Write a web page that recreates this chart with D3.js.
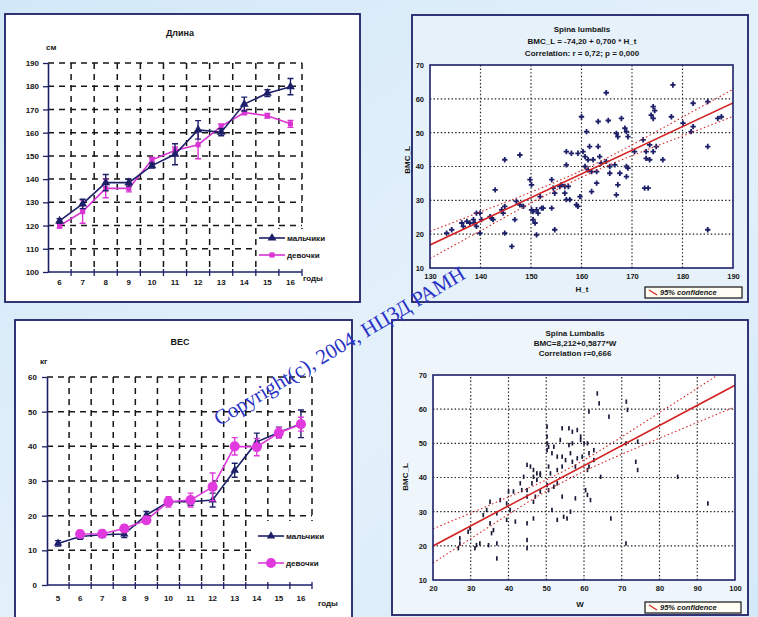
<!DOCTYPE html>
<html>
<head>
<meta charset="utf-8">
<script src="https://cdn.jsdelivr.net/npm/d3@7"></script>
<style>
  body { margin: 0; }
  svg { display: block; }
  text { font-family: "Liberation Sans", Arial, sans-serif; }
  text.watermark { font-family: "Liberation Serif", "Times New Roman", serif; }
</style>
</head>
<body>
<svg id="chart" width="758" height="617"></svg>
<script>
// ---------- Длина (height by age) ----------
const heightAges = ["6", "7", "8", "9", "10", "11", "12", "13", "14", "15", "16"];
const heightTicks = [100, 110, 120, 130, 140, 150, 160, 170, 180, 190];
const heightBoys = [122, 129.3, 138.5, 138.5, 145.8, 150.7, 161.2, 160.2, 172.3, 177, 179.8];
const heightBoysErr = [1, 2, 3.5, 1.5, 1, 4.5, 4, 1.5, 3, 1.5, 3.5];
const heightGirls = [119.9, 126, 136, 136, 148.3, 152.3, 154.8, 162.7, 168.7, 167.3, 163.8];
const heightGirlsErr = [1, 5, 4, 1.5, 1, 1.5, 6, 1, 1, 1, 1.5];

// ---------- ВЕС (weight by age) ----------
const weightAges = ["5", "6", "7", "8", "9", "10", "11", "12", "13", "14", "15", "16"];
const weightTicks = [0, 10, 20, 30, 40, 50, 60];
const weightBoys = [12, 14, 14.5, 14.7, 20.2, 24, 24, 24.5, 33.1, 41.3, 44, 46.5];
const weightBoysErr = [0.8, 0.8, 0.8, 1, 1, 1, 1, 2, 2, 2.5, 1.5, 4];
const weightGirls = [null, 14.7, 14.8, 16.3, 18.7, 24, 24.5, 28.3, 40, 39.8, 43.9, 46.4];
const weightGirlsErr = [null, 1, 1, 1, 1, 1.5, 2, 4, 2.5, 2.5, 1.5, 2];

// ---------- BMC vs height ----------
const bmcHeightXTicks = [130, 140, 150, 160, 170, 180, 190];
const bmcHeightYTicks = [10, 20, 30, 40, 50, 60, 70];
const bmcHeightFit = [-74.2, 0.70];           // intercept, slope
const bmcHeightCiX = [130, 140, 150, 160, 170, 180, 190];
const bmcHeightCiUpper = [20.8, 26.6, 32.4, 38.8, 46.4, 54.6, 62.8];
const bmcHeightCiLower = [12.8, 21.0, 29.2, 36.8, 43.2, 49.0, 54.8];
const bmcHeightPoints = [
  [178.1,64.1],[164.9,61.8],[182.1,58.7],[185.0,59.2],[174.2,57.7],[174.5,56.5],[160.0,54.7],[163.3,53.3],
  [165.3,53.6],[167.9,54.2],[173.8,55.2],[174.2,54.2],[177.8,54.7],[187.0,54.2],[187.7,54.7],[180.1,52.8],
  [161.0,50.3],[166.9,49.8],[167.2,48.8],[168.6,51.3],[168.9,50.3],[169.2,48.8],[182.1,51.8],[181.7,50.3],
  [172.2,47.9],[185.0,45.9],[161.6,45.9],[163.3,45.9],[157.0,44.4],[158.0,43.9],[159.3,43.9],[160.3,44.4],
  [170.5,44.4],[172.8,44.4],[174.2,44.4],[172.8,42.4],[173.5,42.0],[176.1,42.0],[144.8,42.0],[147.8,43.4],
  [157.0,40.5],[160.7,42.9],[161.3,42.0],[162.3,42.0],[163.6,42.9],[163.9,41.0],[164.9,41.5],[165.6,40.0],
  [166.6,40.5],[160.7,40.0],[161.3,39.0],[162.0,38.5],[163.0,38.5],[165.6,38.0],[167.6,38.0],[168.9,40.0],
  [169.2,39.5],[168.9,37.0],[163.0,35.1],[167.2,34.6],[166.9,31.6],[162.0,32.6],[154.1,36.1],[154.4,33.6],
  [156.0,34.6],[156.7,34.1],[157.4,34.1],[155.7,34.1],[149.8,36.1],[150.1,34.6],[142.9,33.1],[151.8,31.1],
  [152.1,27.7],[154.1,27.7],[154.7,32.1],[157.0,30.2],[157.7,30.2],[159.0,28.7],[159.3,28.2],[156.7,32.1],
  [172.5,33.6],[173.2,33.6],[154.7,21.3],[147.1,29.7],[147.8,28.7],[148.5,28.2],[144.2,27.2],[144.5,26.2],
  [150.1,27.2],[150.4,26.7],[151.1,27.2],[151.4,26.2],[152.4,27.7],[150.4,24.3],[150.8,23.3],[144.8,20.3],
  [146.8,24.3],[151.1,19.8],[139.9,26.2],[140.2,24.3],[141.9,25.2],[142.2,24.7],[142.5,24.3],[138.6,24.3],
  [138.9,23.3],[139.2,22.3],[139.9,20.3],[136.3,23.3],[136.6,22.3],[137.3,23.8],[137.9,23.3],[133.3,20.3],
  [134.3,21.3],[146.2,16.4],[185.0,21.3],[173.5,46.4],[174.8,45.9],[159.7,31.1],[139.2,26.2],[144.8,28.2]
];

// ---------- BMC vs weight ----------
const bmcWeightXTicks = [20, 30, 40, 50, 60, 70, 80, 90, 100];
const bmcWeightYTicks = [10, 20, 30, 40, 50, 60, 70];
const bmcWeightFit = [8.212, 0.5877];          // intercept, slope
const bmcWeightCiX = [20, 30, 40, 50, 60, 70, 80, 90, 100];
const bmcWeightCiUpper = [25.0, 29.6, 34.3, 39.3, 45.1, 51.9, 59.0, 66.1, 73.3];
const bmcWeightCiLower = [15.0, 22.1, 29.2, 36.0, 41.8, 46.8, 51.5, 56.1, 60.7];
const bmcWeightPoints = [
  [63.5,64.6],[61.3,59.3],[64.0,61.7],[66.6,57.8],[71.2,62.2],[71.5,59.8],[50.2,54.9],[50.2,52.0],
  [54.2,54.4],[56.0,54.4],[56.9,53.4],[58.2,53.9],[59.1,52.0],[53.7,51.0],[56.0,49.5],[56.9,50.0],
  [60.0,50.0],[60.9,50.0],[50.2,50.0],[50.6,49.0],[52.0,49.0],[50.2,48.0],[51.5,47.1],[52.9,46.1],
  [54.2,46.1],[56.4,47.1],[55.1,45.1],[56.9,44.6],[58.2,45.6],[59.5,46.1],[62.6,45.1],[61.3,43.2],
  [60.9,42.2],[57.7,43.2],[50.6,43.2],[51.1,41.2],[52.9,42.2],[54.2,43.2],[44.9,43.7],[45.8,43.2],
  [46.6,42.2],[47.5,41.2],[48.4,41.2],[44.0,40.2],[43.1,38.3],[43.5,36.3],[44.9,36.3],[46.2,38.3],
  [44.9,34.4],[47.1,34.4],[46.6,32.9],[48.4,35.9],[50.2,37.8],[50.6,36.3],[52.0,37.3],[52.9,38.3],
  [54.2,34.4],[57.7,33.9],[54.6,28.5],[56.4,30.0],[52.9,27.6],[55.5,28.0],[51.5,30.5],[46.6,28.0],
  [44.9,26.6],[41.3,35.9],[40.0,35.9],[39.5,32.4],[37.8,33.4],[40.4,30.5],[41.8,27.1],[39.5,27.6],
  [36.9,29.5],[35.1,32.9],[34.2,30.5],[33.3,29.0],[35.1,26.6],[36.0,24.6],[35.5,23.7],[36.9,20.7],
  [32.4,20.7],[31.5,20.2],[31.1,19.3],[34.7,20.2],[36.9,16.3],[29.8,25.1],[29.3,24.1],[27.1,22.2],
  [27.1,20.7],[26.7,19.3],[44.9,19.3],[44.9,21.7],[67.1,28.0],[71.1,20.7],[73.7,44.6],[74.2,42.2],
  [84.8,40.2],[92.8,32.4],[64.4,40.2],[60.4,36.3],[60.9,34.9],[61.7,33.4],[59.1,51.0],[62.6,48.0],
  [61.3,47.1],[71.1,50.0],[74.2,50.5],[46.6,40.2],[47.5,39.3],[48.4,40.7]
];

const NAVY = "#1d2068";
const MAG = "#d834d2";
const RED = "#d42222";
const svg = d3.select("#chart");
const defs = svg.append("defs");

// page background
const bg = defs.append("linearGradient").attr("id", "pageBg")
  .attr("x1", 0).attr("y1", 0).attr("x2", 1).attr("y2", 1);
bg.append("stop").attr("offset", 0).attr("stop-color", "#d2e8f8");
bg.append("stop").attr("offset", 0.55).attr("stop-color", "#e4f1fb");
bg.append("stop").attr("offset", 1).attr("stop-color", "#d4e9f8");
svg.append("rect").attr("width", 758).attr("height", 617).attr("fill", "url(#pageBg)");

function frame(x0, y0, x1, y1, fill) {
  svg.append("rect").attr("x", x0).attr("y", y0).attr("width", x1 - x0).attr("height", y1 - y0)
    .attr("fill", fill).attr("stroke", NAVY).attr("stroke-width", 1.8);
}

frame(5, 14, 360, 302, "#ffffff");
frame(412, 15, 748, 302, "#e6f1fa");
frame(15, 320, 352, 622, "#ffffff");
frame(392, 320, 748, 615, "#eef6fc");

function styleAxis(sel, size) {
  sel.select(".domain").attr("stroke", NAVY).attr("stroke-width", 1.6);
  sel.selectAll(".tick line").attr("stroke", NAVY).attr("stroke-width", 1.3);
  sel.selectAll(".tick text").attr("fill", "#151515").attr("font-size", size)
    .attr("font-weight", "bold");
}

// ---------- category line panel with error bars ----------
function linePanel(p) {
  const g = svg.append("g");
  const x = d3.scaleBand().domain(p.cats).range(p.xr).padding(0);
  const y = d3.scaleLinear().domain([p.ticks[0], p.ticks[p.ticks.length - 1]]).range(p.yr);
  const bw = x.bandwidth();
  const cx = c => x(c) + bw / 2;

  g.selectAll(null).data(p.ticks.slice(1)).join("line")
    .attr("x1", p.xr[0]).attr("x2", p.xr[1])
    .attr("y1", d => y(d)).attr("y2", d => y(d))
    .attr("stroke", "#161616").attr("stroke-width", 1.5).attr("stroke-dasharray", "6,5");
  g.selectAll(null).data(p.cats).join("line")
    .attr("x1", d => x(d) + bw).attr("x2", d => x(d) + bw)
    .attr("y1", p.yr[1]).attr("y2", p.yr[0])
    .attr("stroke", "#161616").attr("stroke-width", 1.5).attr("stroke-dasharray", "6,5");

  // legend area
  const L = p.legend;
  g.append("rect").attr("x", L.box[0]).attr("y", L.box[1])
    .attr("width", L.box[2]).attr("height", L.box[3]).attr("fill", "#ffffff");

  const ya = g.append("g").attr("transform", `translate(${p.xr[0]},0)`)
    .call(d3.axisLeft(y).tickValues(p.ticks).tickSize(5).tickSizeOuter(0).tickPadding(p.yPad));
  styleAxis(ya, 8);
  const xa = g.append("g").attr("transform", `translate(0,${p.yr[0]})`)
    .call(d3.axisBottom(x).tickSize(0).tickSizeOuter(0).tickPadding(p.xPad));
  styleAxis(xa, 8);
  xa.select(".domain").attr("d", `M${p.xr[0]},0H${p.xr[1]}`);
  // boundary tick marks on the category axis
  g.selectAll(null).data(p.cats).join("line")
    .attr("x1", d => x(d) + bw).attr("x2", d => x(d) + bw)
    .attr("y1", p.yr[0] - 3).attr("y2", p.yr[0] + 4)
    .attr("stroke", NAVY).attr("stroke-width", 1.3);

  const series = [
    { v: p.girls, e: p.girlsErr, color: p.girlColor, marker: p.girlMarker, size: p.girlSize },
    { v: p.boys, e: p.boysErr, color: NAVY, marker: d3.symbolTriangle, size: p.boySize }
  ];
  if (p.boysFirst) series.reverse();

  series.forEach(s => {
    const pts = p.cats.map((c, i) => ({ c, v: s.v[i], e: s.e[i] })).filter(d => d.v != null);
    // error bars
    g.selectAll(null).data(pts).join("path")
      .attr("d", d => {
        const X = cx(d.c), t = y(d.v + d.e), b = y(d.v - d.e);
        return `M${X},${t}V${b}M${X - 3},${t}H${X + 3}M${X - 3},${b}H${X + 3}`;
      })
      .attr("stroke", s.color).attr("stroke-width", 1.4).attr("fill", "none");
    g.append("path").datum(pts)
      .attr("d", d3.line().x(d => cx(d.c)).y(d => y(d.v)))
      .attr("fill", "none").attr("stroke", s.color).attr("stroke-width", 1.6);
    g.selectAll(null).data(pts).join("path")
      .attr("transform", d => `translate(${cx(d.c)},${y(d.v)})`)
      .attr("d", d3.symbol().type(s.marker).size(s.size))
      .attr("fill", s.color);
  });

  // legend entries
  [[NAVY, d3.symbolTriangle, p.boySize, "мальчики", L.y1], [p.girlColor, p.girlMarker, p.girlSize, "девочки", L.y2]]
    .forEach(([col, sym, sz, label, ly]) => {
      g.append("line").attr("x1", L.x).attr("x2", L.x + 26).attr("y1", ly).attr("y2", ly)
        .attr("stroke", col).attr("stroke-width", 1.6);
      g.append("path").attr("transform", `translate(${L.x + 13},${ly})`)
        .attr("d", d3.symbol().type(sym).size(sz)).attr("fill", col);
      g.append("text").attr("x", L.x + 28).attr("y", ly + 3).attr("font-size", 8)
        .attr("font-weight", "bold").attr("fill", "#151515").text(label);
    });

  g.append("text").attr("x", p.title[1]).attr("y", p.title[2]).attr("text-anchor", "middle")
    .attr("font-size", 9).attr("font-weight", "bold").attr("fill", "#151515").text(p.title[0]);
  g.append("text").attr("x", p.unit[1]).attr("y", p.unit[2])
    .attr("font-size", 8).attr("font-weight", "bold").attr("fill", "#151515").text(p.unit[0]);
  g.append("text").attr("x", p.years[0]).attr("y", p.years[1])
    .attr("font-size", 8).attr("font-weight", "bold").attr("fill", "#151515").text("годы");
}

linePanel({
  cats: heightAges, ticks: heightTicks, xr: [48, 302], yr: [272, 63],
  boys: heightBoys, boysErr: heightBoysErr, girls: heightGirls, girlsErr: heightGirlsErr,
  girlColor: MAG, girlMarker: d3.symbolSquare, girlSize: 26, boySize: 34, boysFirst: false,
  legend: { box: [257, 229, 98, 40], x: 259, y1: 238, y2: 255 },
  yPad: 4, xPad: 7,
  title: ["Длина", 180, 36], unit: ["см", 46, 50], years: [303, 281]
});

linePanel({
  cats: weightAges, ticks: weightTicks, xr: [47, 312], yr: [585, 377],
  boys: weightBoys, boysErr: weightBoysErr, girls: weightGirls, girlsErr: weightGirlsErr,
  girlColor: "#e03ade", girlMarker: d3.symbolCircle, girlSize: 80, boySize: 30, boysFirst: true,
  legend: { box: [251, 521, 98, 62], x: 258, y1: 536, y2: 563 },
  yPad: 5, xPad: 10,
  title: ["ВЕС", 180, 345], unit: ["кг", 40, 364], years: [318, 606]
});

// ---------- regression scatter panel ----------
function scatterPanel(p) {
  const g = svg.append("g");
  const x = d3.scaleLinear().domain([p.xTicks[0], p.xTicks[p.xTicks.length - 1]]).range(p.xr);
  const y = d3.scaleLinear().domain([p.yTicks[0], p.yTicks[p.yTicks.length - 1]]).range(p.yr);
  const clipId = p.id + "Clip";
  defs.append("clipPath").attr("id", clipId).append("rect")
    .attr("x", p.xr[0]).attr("y", p.yr[1]).attr("width", p.xr[1] - p.xr[0]).attr("height", p.yr[0] - p.yr[1]);

  g.append("rect").attr("x", p.xr[0]).attr("y", p.yr[1])
    .attr("width", p.xr[1] - p.xr[0]).attr("height", p.yr[0] - p.yr[1]).attr("fill", "#ffffff");

  g.selectAll(null).data(p.yTicks.slice(1, -1)).join("line")
    .attr("x1", p.xr[0]).attr("x2", p.xr[1]).attr("y1", d => y(d)).attr("y2", d => y(d))
    .attr("stroke", "#202020").attr("stroke-width", 1.2).attr("stroke-dasharray", "1.4,2.2");
  g.selectAll(null).data(p.xTicks.slice(1, -1)).join("line")
    .attr("x1", d => x(d)).attr("x2", d => x(d)).attr("y1", p.yr[0]).attr("y2", p.yr[1])
    .attr("stroke", "#202020").attr("stroke-width", 1.2).attr("stroke-dasharray", "1.4,2.2");

  const pg = g.append("g").attr("clip-path", `url(#${clipId})`);
  // points
  if (p.marker === "cross") {
    pg.selectAll(null).data(p.points).join("path")
      .attr("transform", d => `translate(${x(d[0])},${y(d[1])})`)
      .attr("d", d3.symbol().type(d3.symbolCross).size(16))
      .attr("fill", NAVY);
  } else {
    pg.selectAll(null).data(p.points).join("rect")
      .attr("x", d => x(d[0]) - 0.8).attr("y", d => y(d[1]) - 2.2)
      .attr("width", 1.7).attr("height", 4.4).attr("fill", "#1a1a3a");
  }
  // regression and confidence band
  const xd = x.domain();
  const fit = v => p.fit[0] + p.fit[1] * v;
  pg.append("line").attr("x1", x(xd[0])).attr("y1", y(fit(xd[0])))
    .attr("x2", x(xd[1])).attr("y2", y(fit(xd[1])))
    .attr("stroke", RED).attr("stroke-width", 1.6);
  [p.ciUpper, p.ciLower].forEach(arr => {
    pg.append("path").datum(p.ciX.map((v, i) => [v, arr[i]]))
      .attr("d", d3.line().x(d => x(d[0])).y(d => y(d[1])).curve(d3.curveMonotoneX))
      .attr("fill", "none").attr("stroke", RED).attr("stroke-width", 1.1)
      .attr("stroke-dasharray", "1.5,2.5");
  });

  g.append("rect").attr("x", p.xr[0]).attr("y", p.yr[1])
    .attr("width", p.xr[1] - p.xr[0]).attr("height", p.yr[0] - p.yr[1])
    .attr("fill", "none").attr("stroke", NAVY).attr("stroke-width", 1.6);

  const ya = g.append("g").attr("transform", `translate(${p.xr[0]},0)`)
    .call(d3.axisLeft(y).tickValues(p.yTicks).tickSize(0).tickPadding(6));
  styleAxis(ya, 7.5);
  ya.select(".domain").remove();
  const xa = g.append("g").attr("transform", `translate(0,${p.yr[0]})`)
    .call(d3.axisBottom(x).tickValues(p.xTicks).tickSize(0).tickPadding(6));
  styleAxis(xa, 7.5);
  xa.select(".domain").remove();

  p.titles.forEach((t, i) => {
    g.append("text").attr("x", p.titleX).attr("y", p.titleY + i * p.titleStep)
      .attr("text-anchor", "middle").attr("font-size", 8).attr("font-weight", "bold")
      .attr("fill", "#151515").text(t);
  });
  g.append("text").attr("transform", `translate(${p.yLabel[1]},${p.yLabel[2]}) rotate(-90)`)
    .attr("text-anchor", "middle").attr("font-size", 8).attr("font-weight", "bold")
    .attr("fill", "#151515").text(p.yLabel[0]);
  g.append("text").attr("x", p.xLabel[1]).attr("y", p.xLabel[2]).attr("text-anchor", "middle")
    .attr("font-size", 8).attr("font-weight", "bold").attr("fill", "#151515").text(p.xLabel[0]);

  const b = p.legendBox;
  g.append("rect").attr("x", b[0]).attr("y", b[1]).attr("width", b[2]).attr("height", b[3])
    .attr("fill", "#fffdf4").attr("stroke", "#111").attr("stroke-width", 1.2);
  g.append("line").attr("x1", b[0] + 4).attr("x2", b[0] + 12).attr("y1", b[1] + 3).attr("y2", b[1] + b[3] - 3)
    .attr("stroke", RED).attr("stroke-width", 1.2);
  g.append("text").attr("x", b[0] + 15).attr("y", b[1] + b[3] - 3).attr("font-size", 7.5)
    .attr("font-weight", "bold").attr("font-style", "italic").attr("fill", "#151515").text("95% confidence");
}

scatterPanel({
  id: "bmcHeight", xTicks: bmcHeightXTicks, yTicks: bmcHeightYTicks,
  xr: [430, 733], yr: [268, 65], points: bmcHeightPoints, marker: "cross",
  fit: bmcHeightFit, ciX: bmcHeightCiX, ciUpper: bmcHeightCiUpper, ciLower: bmcHeightCiLower,
  titles: ["Spina lumbalis", "BMC_L = -74,20 + 0,700 * H_t", "Correlation: r = 0,72; p = 0,000"],
  titleX: 582, titleY: 32, titleStep: 12,
  yLabel: ["BMC_L", 410, 160], xLabel: ["H_t", 582, 292], legendBox: [645, 287, 97, 11]
});

scatterPanel({
  id: "bmcWeight", xTicks: bmcWeightXTicks, yTicks: bmcWeightYTicks,
  xr: [433, 735], yr: [580, 375], points: bmcWeightPoints, marker: "dash",
  fit: bmcWeightFit, ciX: bmcWeightCiX, ciUpper: bmcWeightCiUpper, ciLower: bmcWeightCiLower,
  titles: ["Spina Lumbalis", "BMC=8,212+0,5877*W", "Correlation r=0,666"],
  titleX: 575, titleY: 336, titleStep: 10,
  yLabel: ["BMC_L", 408, 477], xLabel: ["W", 580, 607], legendBox: [645, 602, 96, 11]
});

// watermark
svg.append("text")
  .attr("class", "watermark")
  .attr("transform", "translate(343,352) rotate(-31)")
  .attr("text-anchor", "middle")
  .attr("font-size", 21)
  .attr("fill", "#2a33c6")
  .text("Copyright(c), 2004, НЦЗД РАМН");
</script>
</body>
</html>
